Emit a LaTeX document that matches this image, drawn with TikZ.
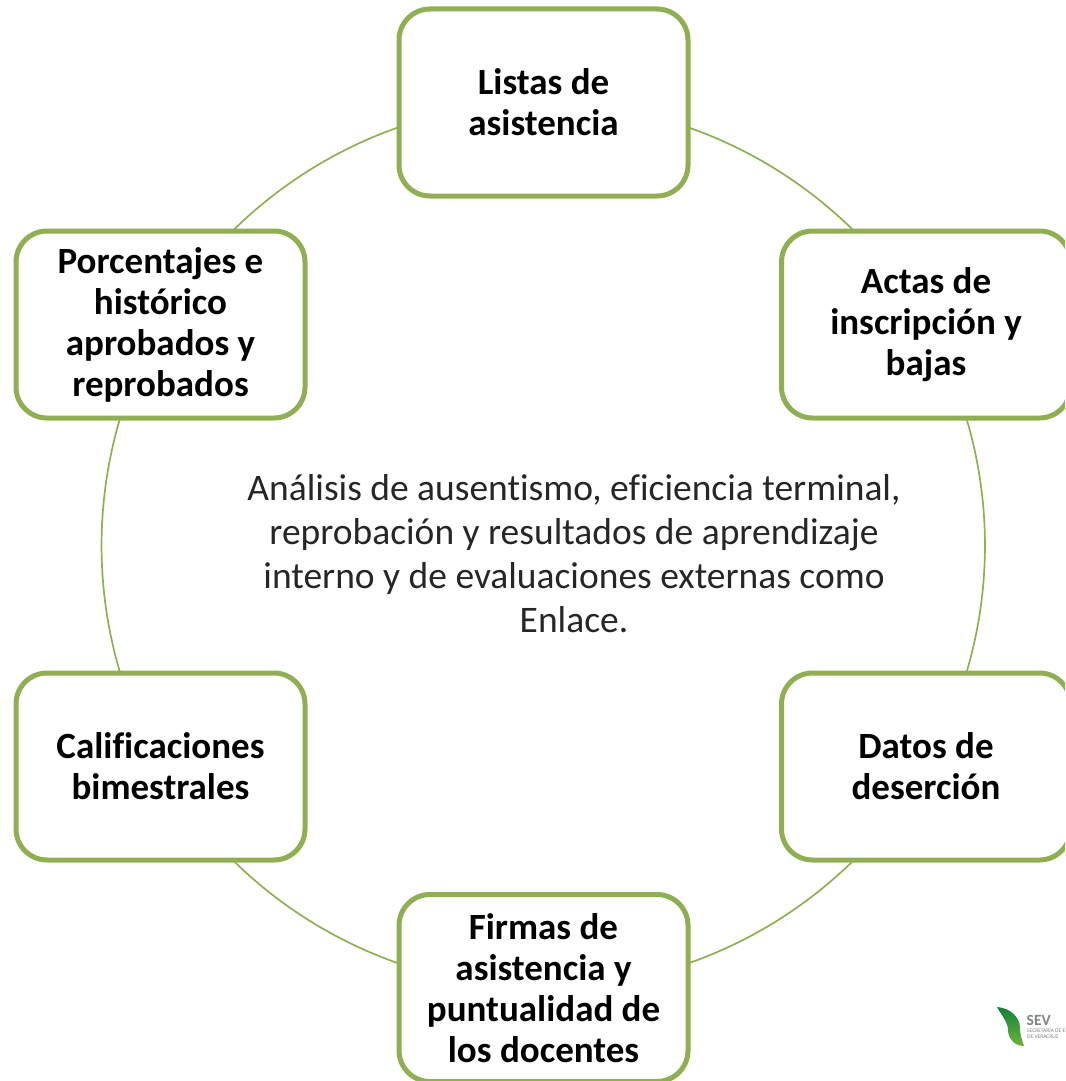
\documentclass[tikz,border=0pt]{standalone}
\usepackage{fontspec}
\setmainfont[Ligatures=CommonOff]{Carlito}
\definecolor{ringgreen}{HTML}{8FAF52}
\definecolor{leafdark}{HTML}{14803A}
\definecolor{leaflight}{HTML}{6DB33F}
\definecolor{sevgray}{HTML}{7F8583}
\pgfdeclarelayer{bg}
\pgfsetlayers{bg,main}
\tikzset{
  card/.style={draw=ringgreen,line width=5pt,fill=white,rounded corners=31pt,
    minimum width=289pt,minimum height=187pt,align=center,inner sep=0pt,
    font=\fontsize{37}{41}\selectfont\bfseries},
  ring/.style={draw=ringgreen,line width=1.7pt,bend left=30,looseness=0.912},
  centertext/.style={align=center,inner sep=0pt,font=\fontsize{37.5}{44}\selectfont,text=black!85},
  sevbig/.style={inner sep=0pt,anchor=west,text=sevgray,font=\fontsize{15.5}{15.5}\selectfont\bfseries},
  sevsmall/.style={inner sep=0pt,anchor=west,text=sevgray,font=\fontsize{5.5}{5.5}\selectfont}
}
\begin{document}
\begin{tikzpicture}[x=1pt,y=-1pt]
\useasboundingbox (0,0) rectangle (1065,1081);
\clip (0,0) rectangle (1065,1081);
\node[card] (listas) at (543.5,102.5) {Listas de\\asistencia};
\node[card] (actas) at (926,324.5) {Actas de\\inscripción y\\bajas};
\node[card] (datos) at (926,766.5) {Datos de\\deserción};
\node[card] (firmas) at (543.5,988) {Firmas de\\asistencia y\\puntualidad de\\los docentes};
\node[card] (calif) at (160.5,766.5) {Calificaciones\\bimestrales};
\node[card] (porc) at (160.5,324.5) {Porcentajes e\\histórico\\aprobados y\\reprobados};
\node[centertext] (analisis) at (574,554) {Análisis de ausentismo, eficiencia terminal,\\reprobación y resultados de aprendizaje\\interno y de evaluaciones externas como\\Enlace.};
\begin{pgfonlayer}{bg}
\draw[ring] (listas.center) to (actas.center);
\draw[ring] (actas.center) to (datos.center);
\draw[ring] (datos.center) to (firmas.center);
\draw[ring] (firmas.center) to (calif.center);
\draw[ring] (calif.center) to (porc.center);
\draw[ring] (porc.center) to (listas.center);
\end{pgfonlayer}
% logo
\shade[top color=leafdark,bottom color=leaflight]
  (997,1007) .. controls (1011,1008) and (1020,1018) .. (1020,1028)
  .. controls (1020,1035) and (1022,1040) .. (1024,1046)
  .. controls (1014,1046) and (1008,1038) .. (1008,1030)
  .. controls (1008,1022) and (1001,1015) .. (997,1007) -- cycle;
\node[sevbig] (sevmark) at (1026.5,1020) {SEV};
\node[sevsmall] (sevline1) at (1027,1030) {SECRETARÍA DE E};
\node[sevsmall] (sevline2) at (1027,1036.5) {DE VERACRUZ};
\end{tikzpicture}
\end{document}
